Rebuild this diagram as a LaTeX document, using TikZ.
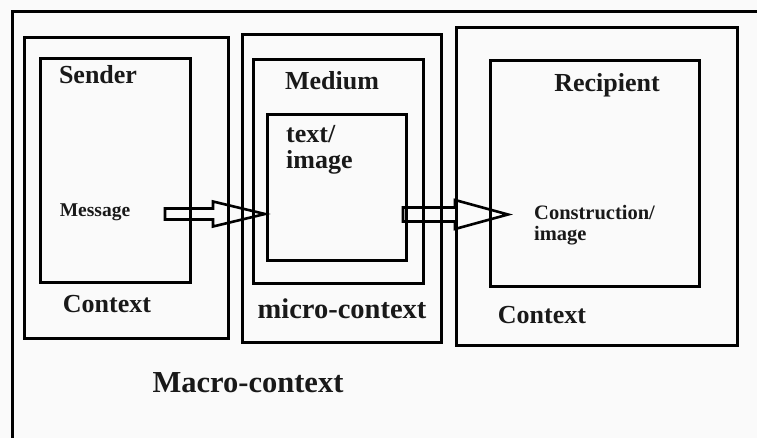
\documentclass[tikz,border=0pt]{standalone}
\usepackage{fontspec}
\setmainfont{Liberation Serif}
\begin{document}
\begin{tikzpicture}[x=1pt,y=-1pt,
  box/.style={draw, line width=3pt, inner sep=0pt, anchor=north west},
  lbl/.style={font=\bfseries\fontsize{26}{26}\selectfont, inner sep=0pt, text=black!90},
  small/.style={font=\bfseries\fontsize{19.5}{21}\selectfont, inner sep=0pt, text=black!90},
  blockarrow/.style={draw, line width=2.6pt, line join=miter}]
\useasboundingbox (0,0) rectangle (757,438);
\fill[white!98!black] (0,0) rectangle (757,438);
\clip (0,0) rectangle (757,438);
% outer macro frame (extends beyond the picture)
\node[box, minimum width=800pt, minimum height=500pt] (macro) at (11,10) {};
% sender side
\node[box, minimum width=204pt, minimum height=301pt] (sctx) at (23,36) {};
\node[box, minimum width=150pt, minimum height=224pt] (sender) at (39,57) {};
% medium
\node[box, minimum width=199pt, minimum height=308pt] (mctx) at (241,33) {};
\node[box, minimum width=170pt, minimum height=224pt] (medium) at (252,58) {};
\node[box, minimum width=139pt, minimum height=146pt] (textbox) at (266,113) {};
% recipient
\node[box, minimum width=281pt, minimum height=318pt] (rctx) at (455,26) {};
\node[box, minimum width=209pt, minimum height=226pt] (recip) at (489,59) {};
% labels
\node[lbl] (lsender) at (98,75) {Sender};
\node[small] (lmsg) at (95,212) {Message};
\node[lbl] (lctx1) at (107,304) {Context};
\node[lbl] (lmedium) at (332,81) {Medium};
\node[lbl, align=left, anchor=west, font=\bfseries\fontsize{26}{26}\selectfont] (ltext) at (286,150) {text/\\image};
\node[lbl] (lrecip) at (607,85) {Recipient};
\node[small, align=left, anchor=west, font=\bfseries\fontsize{20.5}{21}\selectfont] (lcons) at (534,225.5) {Construction/\\image};
\node[lbl, font=\bfseries\fontsize{28.5}{28}\selectfont] (lmicro) at (342,309) {micro-context};
\node[lbl] (lctx2) at (542,315) {Context};
\node[lbl, font=\bfseries\fontsize{30.5}{30}\selectfont] (lmacro) at (248,383) {Macro-context};
% block arrows
\coordinate (a1) at (165,214);
\coordinate (a2) at (403,214.5);
\draw[blockarrow] (a1) ++(0,-5.5) -- ++(48,0) -- ++(0,-7) -- ++(52,12.5) -- ++(-52,12.5) -- ++(0,-7) -- ++(-48,0) -- cycle;
\draw[blockarrow] (a2) ++(0,-7) -- ++(52,0) -- ++(0,-7.5) -- ++(53,14.5) -- ++(-53,14.5) -- ++(0,-7.5) -- ++(-52,0) -- cycle;
\end{tikzpicture}
\end{document}
